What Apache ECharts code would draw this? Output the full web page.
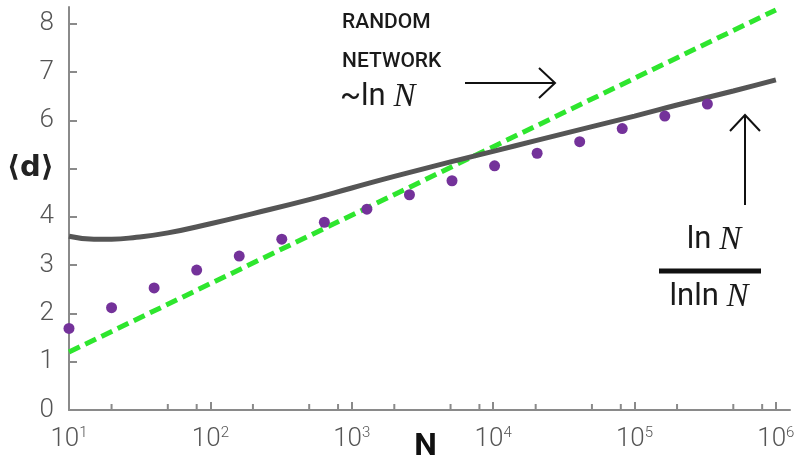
<!DOCTYPE html>
<html>
<head>
<meta charset="utf-8">
<script src="https://cdn.jsdelivr.net/npm/echarts@6/dist/echarts.min.js"></script>
<style>
  html, body { margin: 0; padding: 0; background: #fff; }
  #chart { width: 796px; height: 460px; }
</style>
</head>
<body>
<div id="chart"></div>
<script>
// measured average distance <d> against network size N
const dotN = [10, 20, 40, 80, 160, 320, 640, 1280, 2560, 5120, 10240, 20480, 40960, 81920, 163840, 327680];
const dotD = [1.69, 2.12, 2.53, 2.90, 3.19, 3.54, 3.89, 4.16, 4.46, 4.75, 5.06, 5.32, 5.56, 5.83, 6.09, 6.34];

// random network ~ln N (green dashed)
const fitN = [10, 1000000];
const fitD = [1.20, 8.29];

// ln N / lnln N (gray curve)
const curveN = [10, 15, 20, 30, 50, 100, 200, 500, 1000, 2000, 5000, 10000, 20000, 50000, 100000, 200000, 500000, 1000000];
const curveD = [3.60, 3.54, 3.54, 3.58, 3.67, 3.86, 4.07, 4.36, 4.60, 4.84, 5.14, 5.36, 5.58, 5.87, 6.09, 6.32, 6.61, 6.84];

const xTicks = [10, 100, 1000, 10000, 100000, 1000000];
const xMinorTicks = [20, 50, 80, 200, 500, 800, 2000, 5000, 8000, 20000, 50000, 80000, 200000, 500000, 800000];
const yTicks = [0, 1, 2, 3, 4, 5, 6, 7, 8];

const axisGray = '#8a8a8a';
const labelColor = '#555';
const font = 'Roboto';

const pairs = (xs, ys) => xs.map((x, i) => [x, ys[i]]);

const chart = echarts.init(document.getElementById('chart'));

const option = {
  backgroundColor: '#fff',
  animation: false,
  grid: { left: 69, right: 6, top: 7, bottom: 50, outerBoundsMode: 'none', containLabel: false },
  xAxis: {
    type: 'log',
    logBase: 10,
    min: 10,
    max: 1258925,
    name: 'N',
    nameLocation: 'middle',
    nameGap: 21,
    nameMoveOverlap: false,
    nameTextStyle: { color: '#111', fontSize: 32, fontWeight: 'bold', fontFamily: font, padding: [0, 8, 0, 0] },
    axisLine: { lineStyle: { color: axisGray, width: 2 } },
    axisTick: { inside: true, length: 8, customValues: xTicks, lineStyle: { color: axisGray, width: 2 } },
    axisLabel: {
      customValues: xTicks,
      margin: 16,
      color: labelColor,
      fontFamily: font,
      fontWeight: 300,
      fontSize: 26,
      formatter: v => '10{sup|' + Math.round(Math.log10(v)) + '}',
      rich: {
        sup: { fontSize: 15, verticalAlign: 'top', color: labelColor, fontFamily: font, fontWeight: 300 }
      }
    },
    splitLine: { show: false }
  },
  yAxis: {
    type: 'value',
    min: 0,
    max: 8.35,
    axisLine: { show: true, lineStyle: { color: axisGray, width: 2 } },
    axisTick: { show: true, inside: true, length: 8, customValues: yTicks, lineStyle: { color: axisGray, width: 2 } },
    axisLabel: {
      customValues: yTicks,
      margin: 15,
      color: labelColor,
      fontFamily: font,
      fontWeight: 300,
      fontSize: 26,
      formatter: v => (v === 5 ? '{d|\u27E8d\u27E9}' : String(v)),
      rich: {
        d: { fontSize: 29, color: '#222', fontFamily: 'DejaVu Sans', fontWeight: 'bold' }
      }
    },
    splitLine: { show: false }
  },
  series: [
    {
      // minor ticks of the log axis at 2, 5, 8
      type: 'scatter',
      data: xMinorTicks.map(n => [n, 0]),
      symbol: 'rect',
      symbolSize: [2, 6],
      symbolOffset: [0, -3],
      itemStyle: { color: axisGray, opacity: 1 },
      silent: true,
      clip: false,
      z: 1
    },
    {
      type: 'line',
      data: pairs(fitN, fitD),
      symbol: 'none',
      lineStyle: { color: '#2ee62e', width: 5, type: [12, 6] },
      z: 2
    },
    {
      type: 'line',
      data: pairs(curveN, curveD),
      symbol: 'none',
      smooth: true,
      lineStyle: { color: '#555', width: 5 },
      z: 3
    },
    {
      type: 'scatter',
      data: pairs(dotN, dotD),
      symbol: 'circle',
      symbolSize: 11,
      itemStyle: { color: '#74329a', opacity: 1 },
      z: 4
    }
  ],
  graphic: [
    { type: 'text', style: { x: 342, y: 23, text: 'RANDOM', verticalAlign: 'middle', fill: '#1a1a1a', fontFamily: font, fontWeight: 500, fontSize: 21 } },
    { type: 'text', style: { x: 342, y: 62, text: 'NETWORK', verticalAlign: 'middle', fill: '#1a1a1a', fontFamily: font, fontWeight: 500, fontSize: 21 } },
    {
      type: 'text',
      style: {
        x: 340, y: 97, text: '~ln {n|N}', verticalAlign: 'middle', fill: '#1a1a1a',
        fontFamily: font, fontWeight: 'normal', fontSize: 31,
        rich: { n: { fontFamily: 'Liberation Serif', fontStyle: 'italic', fontSize: 33, fill: '#1a1a1a' } }
      }
    },
    { type: 'polyline', shape: { points: [[465, 83], [555, 83]] }, style: { stroke: '#111', lineWidth: 2, fill: null } },
    { type: 'polyline', shape: { points: [[539, 68], [555, 83], [539, 98]] }, style: { stroke: '#111', lineWidth: 2, fill: null } },
    { type: 'polyline', shape: { points: [[745, 205], [745, 115]] }, style: { stroke: '#111', lineWidth: 2, fill: null } },
    { type: 'polyline', shape: { points: [[730, 131], [745, 115], [760, 131]] }, style: { stroke: '#111', lineWidth: 2, fill: null } },
    {
      type: 'text',
      style: {
        x: 714, y: 240, text: 'ln {n|N}', align: 'center', verticalAlign: 'middle', fill: '#1a1a1a',
        fontFamily: font, fontWeight: 'normal', fontSize: 31,
        rich: { n: { fontFamily: 'Liberation Serif', fontStyle: 'italic', fontSize: 33, fill: '#1a1a1a' } }
      }
    },
    { type: 'rect', shape: { x: 659, y: 268.5, width: 102, height: 5 }, style: { fill: '#111' } },
    {
      type: 'text',
      style: {
        x: 709, y: 297, text: 'lnln {n|N}', align: 'center', verticalAlign: 'middle', fill: '#1a1a1a',
        fontFamily: font, fontWeight: 'normal', fontSize: 31,
        rich: { n: { fontFamily: 'Liberation Serif', fontStyle: 'italic', fontSize: 33, fill: '#1a1a1a' } }
      }
    }
  ]
};

chart.setOption(option);
</script>
</body>
</html>
